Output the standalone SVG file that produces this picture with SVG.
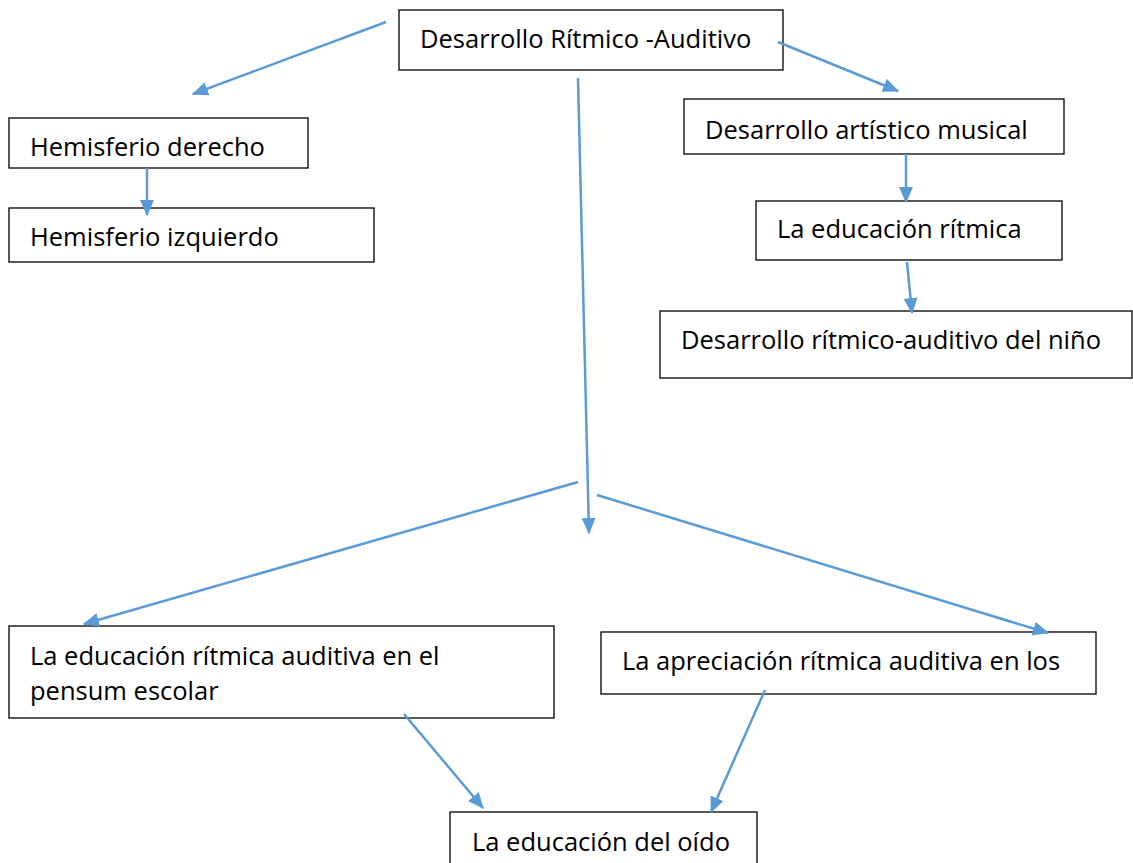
<svg xmlns="http://www.w3.org/2000/svg" width="1133" height="863" viewBox="0 0 1133 863">
<defs>
<style>
.box{fill:#fff;stroke:#000;stroke-width:1.3}
.t{font-family:"Open Sans","Liberation Sans",sans-serif;font-size:25.5px;fill:#000}
.c{stroke:#5B9BD5;stroke-width:2.5;fill:none;marker-end:url(#ah)}
</style>
<marker id="ah" markerWidth="6.5" markerHeight="5.6" refX="6" refY="2.8" orient="auto" markerUnits="strokeWidth">
<path d="M0,0 L6.5,2.8 L0,5.6 Z" fill="#5B9BD5"/>
</marker>
</defs>
<rect width="1133" height="863" fill="#fff"/>
<g id="n1"><rect class="box" x="399" y="10" width="384" height="60"/><text class="t" x="420" y="48">Desarrollo Rítmico -Auditivo</text></g>
<g id="n2"><rect class="box" x="9" y="118" width="299" height="50"/><text class="t" x="30" y="156">Hemisferio derecho</text></g>
<g id="n3"><rect class="box" x="9" y="208" width="365" height="54"/><text class="t" x="30" y="246">Hemisferio izquierdo</text></g>
<g id="n4"><rect class="box" x="684" y="99" width="380" height="55"/><text class="t" x="705" y="139">Desarrollo artístico musical</text></g>
<g id="n5"><rect class="box" x="756" y="201" width="306" height="59"/><text class="t" x="777" y="238">La educación rítmica</text></g>
<g id="n6"><rect class="box" x="660" y="311" width="472" height="67"/><text class="t" x="681" y="349">Desarrollo rítmico-auditivo del niño</text></g>
<g id="n7"><rect class="box" x="9" y="626" width="545" height="92"/><text class="t" x="30" y="665">La educación rítmica auditiva en el</text><text class="t" x="30" y="700">pensum escolar</text></g>
<g id="n8"><rect class="box" x="601" y="632" width="495" height="62"/><text class="t" x="622" y="670">La apreciación rítmica auditiva en los</text></g>
<g id="n9"><rect class="box" x="450" y="812" width="307" height="60"/><text class="t" x="472" y="851">La educación del oído</text></g>
<g id="connectors">
<line class="c" x1="386" y1="22" x2="193" y2="94"/>
<line class="c" x1="778" y1="42" x2="898" y2="91"/>
<line class="c" x1="147" y1="168" x2="147" y2="215"/>
<line class="c" x1="578" y1="78" x2="589" y2="533"/>
<line class="c" x1="906" y1="154" x2="906" y2="202"/>
<line class="c" x1="907" y1="262" x2="912" y2="313"/>
<line class="c" x1="578" y1="482" x2="84" y2="624"/>
<line class="c" x1="597" y1="495" x2="1048" y2="633"/>
<line class="c" x1="404" y1="714" x2="483" y2="808"/>
<line class="c" x1="765" y1="690" x2="711" y2="812"/>
</g>
</svg>
